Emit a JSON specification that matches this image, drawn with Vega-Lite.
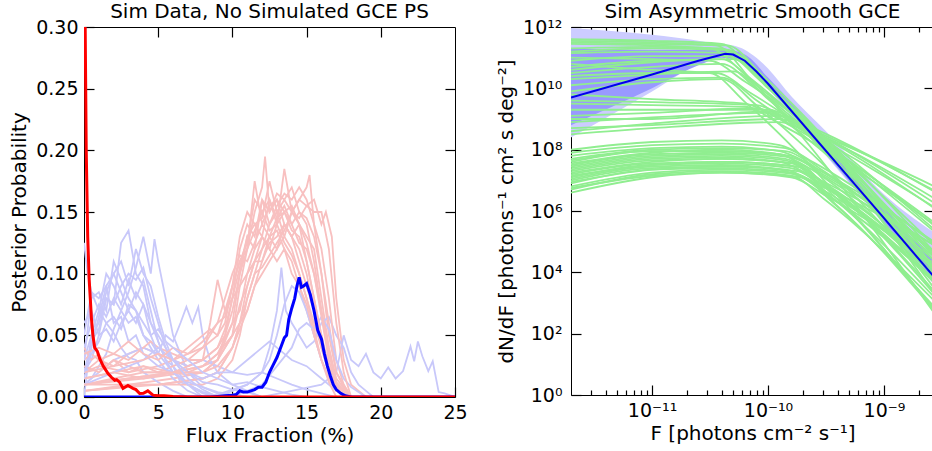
{
"$schema": "https://vega.github.io/schema/vega-lite/v6.json",
"background": "white",
"padding": {"left": 9, "top": 1, "right": 0, "bottom": 0},
"spacing": 28,
"config": {
  "font": "DejaVu Sans",
  "view": {"stroke": "black", "strokeWidth": 1},
  "axis": {"ticks": true, "tickOpacity": 1, "labelFontSize": 19, "titleFontSize": 20, "titleFontWeight": "normal", "labelColor": "black", "titleColor": "black", "tickColor": "#000000", "tickWidth": 1.2, "grid": false, "domain": false, "labelOverlap": false, "labelFlush": false, "labelBound": false, "zindex": 1},
  "title": {"fontSize": 20, "fontWeight": "normal", "color": "black", "offset": -4}
},
"datasets": {
"light": [
{"s":"b1","c":"b","x":0,"y":0.02},{"s":"b1","c":"b","x":0.5,"y":0.045},{"s":"b1","c":"b","x":1,"y":0.055},{"s":"b1","c":"b","x":1.5,"y":0.08},{"s":"b1","c":"b","x":2,"y":0.075},{"s":"b1","c":"b","x":2.5,"y":0.125},{"s":"b1","c":"b","x":3,"y":0.135},{"s":"b1","c":"b","x":3.5,"y":0.1},{"s":"b1","c":"b","x":4,"y":0.09},{"s":"b1","c":"b","x":4.5,"y":0.06},{"s":"b1","c":"b","x":5,"y":0.045},{"s":"b1","c":"b","x":5.5,"y":0.03},{"s":"b1","c":"b","x":6,"y":0.025},{"s":"b1","c":"b","x":6.5,"y":0.012},{"s":"b1","c":"b","x":7,"y":0.01},{"s":"b1","c":"b","x":8,"y":0.004},{"s":"b1","c":"b","x":9,"y":0.001},{"s":"b1","c":"b","x":10,"y":0},
{"s":"p1","c":"p","x":0,"y":0.01},{"s":"p1","c":"p","x":2,"y":0.015},{"s":"p1","c":"p","x":4,"y":0.02},{"s":"p1","c":"p","x":6,"y":0.02},{"s":"p1","c":"p","x":8,"y":0.02},{"s":"p1","c":"p","x":9,"y":0.03},{"s":"p1","c":"p","x":9.5,"y":0.05},{"s":"p1","c":"p","x":10,"y":0.08},{"s":"p1","c":"p","x":10.5,"y":0.12},{"s":"p1","c":"p","x":11,"y":0.14},{"s":"p1","c":"p","x":11.5,"y":0.13},{"s":"p1","c":"p","x":12,"y":0.16},{"s":"p1","c":"p","x":12.5,"y":0.14},{"s":"p1","c":"p","x":13,"y":0.15},{"s":"p1","c":"p","x":13.5,"y":0.13},{"s":"p1","c":"p","x":14,"y":0.12},{"s":"p1","c":"p","x":14.5,"y":0.1},{"s":"p1","c":"p","x":15,"y":0.08},{"s":"p1","c":"p","x":15.5,"y":0.06},{"s":"p1","c":"p","x":16,"y":0.04},{"s":"p1","c":"p","x":16.5,"y":0.02},{"s":"p1","c":"p","x":17,"y":0.008},{"s":"p1","c":"p","x":18,"y":0},
{"s":"b2","c":"b","x":0,"y":0.01},{"s":"b2","c":"b","x":0.5,"y":0.015},{"s":"b2","c":"b","x":1,"y":0.025},{"s":"b2","c":"b","x":1.5,"y":0.035},{"s":"b2","c":"b","x":2,"y":0.055},{"s":"b2","c":"b","x":2.5,"y":0.07},{"s":"b2","c":"b","x":3,"y":0.085},{"s":"b2","c":"b","x":3.5,"y":0.105},{"s":"b2","c":"b","x":4,"y":0.13},{"s":"b2","c":"b","x":4.5,"y":0.1},{"s":"b2","c":"b","x":4.75,"y":0.128},{"s":"b2","c":"b","x":5,"y":0.11},{"s":"b2","c":"b","x":5.5,"y":0.08},{"s":"b2","c":"b","x":6,"y":0.05},{"s":"b2","c":"b","x":6.5,"y":0.035},{"s":"b2","c":"b","x":7,"y":0.02},{"s":"b2","c":"b","x":8,"y":0.008},{"s":"b2","c":"b","x":9,"y":0.003},{"s":"b2","c":"b","x":10,"y":0},
{"s":"p2","c":"p","x":0,"y":0.005},{"s":"p2","c":"p","x":3,"y":0.01},{"s":"p2","c":"p","x":6,"y":0.015},{"s":"p2","c":"p","x":8,"y":0.02},{"s":"p2","c":"p","x":9,"y":0.03},{"s":"p2","c":"p","x":10,"y":0.06},{"s":"p2","c":"p","x":10.5,"y":0.1},{"s":"p2","c":"p","x":11,"y":0.12},{"s":"p2","c":"p","x":11.5,"y":0.15},{"s":"p2","c":"p","x":12,"y":0.17},{"s":"p2","c":"p","x":12.2,"y":0.195},{"s":"p2","c":"p","x":12.5,"y":0.15},{"s":"p2","c":"p","x":13,"y":0.16},{"s":"p2","c":"p","x":13.5,"y":0.14},{"s":"p2","c":"p","x":14,"y":0.13},{"s":"p2","c":"p","x":14.5,"y":0.12},{"s":"p2","c":"p","x":15,"y":0.1},{"s":"p2","c":"p","x":15.5,"y":0.07},{"s":"p2","c":"p","x":16,"y":0.04},{"s":"p2","c":"p","x":16.5,"y":0.02},{"s":"p2","c":"p","x":17,"y":0.01},{"s":"p2","c":"p","x":18,"y":0},
{"s":"b3","c":"b","x":0,"y":0.125},{"s":"b3","c":"b","x":0.25,"y":0.1},{"s":"b3","c":"b","x":0.5,"y":0.085},{"s":"b3","c":"b","x":1,"y":0.07},{"s":"b3","c":"b","x":1.5,"y":0.06},{"s":"b3","c":"b","x":2,"y":0.052},{"s":"b3","c":"b","x":2.5,"y":0.04},{"s":"b3","c":"b","x":3,"y":0.032},{"s":"b3","c":"b","x":3.5,"y":0.03},{"s":"b3","c":"b","x":4,"y":0.02},{"s":"b3","c":"b","x":5,"y":0.012},{"s":"b3","c":"b","x":6,"y":0.005},{"s":"b3","c":"b","x":7,"y":0},
{"s":"p3","c":"p","x":0,"y":0.02},{"s":"p3","c":"p","x":1,"y":0.03},{"s":"p3","c":"p","x":2,"y":0.025},{"s":"p3","c":"p","x":3,"y":0.035},{"s":"p3","c":"p","x":4,"y":0.04},{"s":"p3","c":"p","x":5,"y":0.035},{"s":"p3","c":"p","x":6,"y":0.03},{"s":"p3","c":"p","x":7,"y":0.025},{"s":"p3","c":"p","x":8,"y":0.03},{"s":"p3","c":"p","x":8.5,"y":0.06},{"s":"p3","c":"p","x":9,"y":0.095},{"s":"p3","c":"p","x":9.5,"y":0.07},{"s":"p3","c":"p","x":10,"y":0.08},{"s":"p3","c":"p","x":10.5,"y":0.09},{"s":"p3","c":"p","x":11,"y":0.1},{"s":"p3","c":"p","x":11.5,"y":0.11},{"s":"p3","c":"p","x":12,"y":0.12},{"s":"p3","c":"p","x":12.5,"y":0.13},{"s":"p3","c":"p","x":13,"y":0.12},{"s":"p3","c":"p","x":13.5,"y":0.14},{"s":"p3","c":"p","x":14,"y":0.13},{"s":"p3","c":"p","x":14.5,"y":0.11},{"s":"p3","c":"p","x":15,"y":0.09},{"s":"p3","c":"p","x":15.5,"y":0.07},{"s":"p3","c":"p","x":16,"y":0.045},{"s":"p3","c":"p","x":16.5,"y":0.02},{"s":"p3","c":"p","x":17,"y":0.008},{"s":"p3","c":"p","x":18,"y":0},
{"s":"b4","c":"b","x":0,"y":0.03},{"s":"b4","c":"b","x":0.5,"y":0.08},{"s":"b4","c":"b","x":1,"y":0.085},{"s":"b4","c":"b","x":1.5,"y":0.07},{"s":"b4","c":"b","x":2,"y":0.11},{"s":"b4","c":"b","x":2.5,"y":0.095},{"s":"b4","c":"b","x":3,"y":0.08},{"s":"b4","c":"b","x":3.5,"y":0.07},{"s":"b4","c":"b","x":4,"y":0.05},{"s":"b4","c":"b","x":4.5,"y":0.04},{"s":"b4","c":"b","x":5,"y":0.03},{"s":"b4","c":"b","x":6,"y":0.015},{"s":"b4","c":"b","x":7,"y":0.005},{"s":"b4","c":"b","x":8,"y":0},
{"s":"p4","c":"p","x":0,"y":0.01},{"s":"p4","c":"p","x":4,"y":0.015},{"s":"p4","c":"p","x":7,"y":0.02},{"s":"p4","c":"p","x":9,"y":0.03},{"s":"p4","c":"p","x":10,"y":0.05},{"s":"p4","c":"p","x":10.5,"y":0.09},{"s":"p4","c":"p","x":11,"y":0.12},{"s":"p4","c":"p","x":11.5,"y":0.175},{"s":"p4","c":"p","x":12,"y":0.14},{"s":"p4","c":"p","x":12.5,"y":0.155},{"s":"p4","c":"p","x":13,"y":0.16},{"s":"p4","c":"p","x":13.5,"y":0.15},{"s":"p4","c":"p","x":14,"y":0.155},{"s":"p4","c":"p","x":14.5,"y":0.14},{"s":"p4","c":"p","x":15,"y":0.13},{"s":"p4","c":"p","x":15.5,"y":0.12},{"s":"p4","c":"p","x":16,"y":0.08},{"s":"p4","c":"p","x":16.5,"y":0.04},{"s":"p4","c":"p","x":17,"y":0.01},{"s":"p4","c":"p","x":18,"y":0},
{"s":"b5","c":"b","x":0,"y":0.02},{"s":"b5","c":"b","x":0.5,"y":0.03},{"s":"b5","c":"b","x":1,"y":0.05},{"s":"b5","c":"b","x":1.5,"y":0.08},{"s":"b5","c":"b","x":2,"y":0.075},{"s":"b5","c":"b","x":2.5,"y":0.09},{"s":"b5","c":"b","x":3,"y":0.1},{"s":"b5","c":"b","x":3.5,"y":0.095},{"s":"b5","c":"b","x":4,"y":0.105},{"s":"b5","c":"b","x":4.5,"y":0.08},{"s":"b5","c":"b","x":5,"y":0.06},{"s":"b5","c":"b","x":5.5,"y":0.04},{"s":"b5","c":"b","x":6,"y":0.025},{"s":"b5","c":"b","x":7,"y":0.01},{"s":"b5","c":"b","x":8,"y":0.003},{"s":"b5","c":"b","x":9,"y":0},
{"s":"p5","c":"p","x":0,"y":0.005},{"s":"p5","c":"p","x":5,"y":0.01},{"s":"p5","c":"p","x":8,"y":0.015},{"s":"p5","c":"p","x":9,"y":0.02},{"s":"p5","c":"p","x":10,"y":0.04},{"s":"p5","c":"p","x":10.5,"y":0.06},{"s":"p5","c":"p","x":11,"y":0.09},{"s":"p5","c":"p","x":11.5,"y":0.11},{"s":"p5","c":"p","x":12,"y":0.13},{"s":"p5","c":"p","x":12.5,"y":0.12},{"s":"p5","c":"p","x":13,"y":0.14},{"s":"p5","c":"p","x":13.5,"y":0.185},{"s":"p5","c":"p","x":14,"y":0.15},{"s":"p5","c":"p","x":14.5,"y":0.16},{"s":"p5","c":"p","x":15,"y":0.17},{"s":"p5","c":"p","x":15.2,"y":0.18},{"s":"p5","c":"p","x":15.5,"y":0.14},{"s":"p5","c":"p","x":16,"y":0.1},{"s":"p5","c":"p","x":16.5,"y":0.05},{"s":"p5","c":"p","x":17,"y":0.02},{"s":"p5","c":"p","x":18,"y":0},
{"s":"b6","c":"b","x":0,"y":0.04},{"s":"b6","c":"b","x":0.5,"y":0.06},{"s":"b6","c":"b","x":1,"y":0.075},{"s":"b6","c":"b","x":1.5,"y":0.065},{"s":"b6","c":"b","x":2,"y":0.08},{"s":"b6","c":"b","x":2.5,"y":0.07},{"s":"b6","c":"b","x":3,"y":0.06},{"s":"b6","c":"b","x":3.5,"y":0.065},{"s":"b6","c":"b","x":4,"y":0.05},{"s":"b6","c":"b","x":4.5,"y":0.045},{"s":"b6","c":"b","x":5,"y":0.035},{"s":"b6","c":"b","x":5.5,"y":0.05},{"s":"b6","c":"b","x":6,"y":0.045},{"s":"b6","c":"b","x":6.5,"y":0.06},{"s":"b6","c":"b","x":6.9,"y":0.073},{"s":"b6","c":"b","x":7.3,"y":0.06},{"s":"b6","c":"b","x":7.7,"y":0.073},{"s":"b6","c":"b","x":8,"y":0.05},{"s":"b6","c":"b","x":8.5,"y":0.03},{"s":"b6","c":"b","x":9,"y":0.02},{"s":"b6","c":"b","x":10,"y":0.01},{"s":"b6","c":"b","x":11,"y":0.005},{"s":"b6","c":"b","x":12,"y":0},
{"s":"p6","c":"p","x":0,"y":0.015},{"s":"p6","c":"p","x":2,"y":0.02},{"s":"p6","c":"p","x":4,"y":0.025},{"s":"p6","c":"p","x":6,"y":0.02},{"s":"p6","c":"p","x":8,"y":0.025},{"s":"p6","c":"p","x":9,"y":0.035},{"s":"p6","c":"p","x":10,"y":0.05},{"s":"p6","c":"p","x":11,"y":0.07},{"s":"p6","c":"p","x":11.5,"y":0.09},{"s":"p6","c":"p","x":12,"y":0.1},{"s":"p6","c":"p","x":12.5,"y":0.11},{"s":"p6","c":"p","x":13,"y":0.12},{"s":"p6","c":"p","x":13.5,"y":0.13},{"s":"p6","c":"p","x":14,"y":0.15},{"s":"p6","c":"p","x":14.5,"y":0.16},{"s":"p6","c":"p","x":15,"y":0.155},{"s":"p6","c":"p","x":15.5,"y":0.16},{"s":"p6","c":"p","x":16,"y":0.14},{"s":"p6","c":"p","x":16.3,"y":0.15},{"s":"p6","c":"p","x":16.7,"y":0.13},{"s":"p6","c":"p","x":17,"y":0.08},{"s":"p6","c":"p","x":17.5,"y":0.03},{"s":"p6","c":"p","x":18,"y":0.01},{"s":"p6","c":"p","x":19,"y":0},
{"s":"b7","c":"b","x":0,"y":0.01},{"s":"b7","c":"b","x":1,"y":0.02},{"s":"b7","c":"b","x":2,"y":0.03},{"s":"b7","c":"b","x":3,"y":0.035},{"s":"b7","c":"b","x":4,"y":0.04},{"s":"b7","c":"b","x":5,"y":0.035},{"s":"b7","c":"b","x":6,"y":0.03},{"s":"b7","c":"b","x":7,"y":0.025},{"s":"b7","c":"b","x":8,"y":0.03},{"s":"b7","c":"b","x":9,"y":0.025},{"s":"b7","c":"b","x":10,"y":0.02},{"s":"b7","c":"b","x":11,"y":0.018},{"s":"b7","c":"b","x":12,"y":0.02},{"s":"b7","c":"b","x":13,"y":0.015},{"s":"b7","c":"b","x":14,"y":0.01},{"s":"b7","c":"b","x":15,"y":0.006},{"s":"b7","c":"b","x":16,"y":0.003},{"s":"b7","c":"b","x":17,"y":0},
{"s":"p7","c":"p","x":0,"y":0.03},{"s":"p7","c":"p","x":0.5,"y":0.035},{"s":"p7","c":"p","x":1,"y":0.03},{"s":"p7","c":"p","x":2,"y":0.035},{"s":"p7","c":"p","x":3,"y":0.03},{"s":"p7","c":"p","x":4,"y":0.04},{"s":"p7","c":"p","x":4.5,"y":0.045},{"s":"p7","c":"p","x":5,"y":0.04},{"s":"p7","c":"p","x":6,"y":0.035},{"s":"p7","c":"p","x":7,"y":0.03},{"s":"p7","c":"p","x":8,"y":0.03},{"s":"p7","c":"p","x":9,"y":0.04},{"s":"p7","c":"p","x":9.5,"y":0.05},{"s":"p7","c":"p","x":10,"y":0.07},{"s":"p7","c":"p","x":10.5,"y":0.1},{"s":"p7","c":"p","x":11,"y":0.13},{"s":"p7","c":"p","x":11.5,"y":0.12},{"s":"p7","c":"p","x":12,"y":0.13},{"s":"p7","c":"p","x":12.5,"y":0.12},{"s":"p7","c":"p","x":13,"y":0.11},{"s":"p7","c":"p","x":13.5,"y":0.12},{"s":"p7","c":"p","x":14,"y":0.1},{"s":"p7","c":"p","x":14.5,"y":0.09},{"s":"p7","c":"p","x":15,"y":0.07},{"s":"p7","c":"p","x":15.5,"y":0.05},{"s":"p7","c":"p","x":16,"y":0.03},{"s":"p7","c":"p","x":16.5,"y":0.015},{"s":"p7","c":"p","x":17,"y":0.005},{"s":"p7","c":"p","x":18,"y":0},
{"s":"b8","c":"b","x":8,"y":0},{"s":"b8","c":"b","x":9,"y":0.002},{"s":"b8","c":"b","x":10,"y":0.006},{"s":"b8","c":"b","x":11,"y":0.01},{"s":"b8","c":"b","x":12,"y":0.02},{"s":"b8","c":"b","x":12.5,"y":0.03},{"s":"b8","c":"b","x":13,"y":0.05},{"s":"b8","c":"b","x":13.5,"y":0.075},{"s":"b8","c":"b","x":14,"y":0.09},{"s":"b8","c":"b","x":14.5,"y":0.085},{"s":"b8","c":"b","x":15,"y":0.07},{"s":"b8","c":"b","x":15.5,"y":0.05},{"s":"b8","c":"b","x":16,"y":0.03},{"s":"b8","c":"b","x":16.5,"y":0.015},{"s":"b8","c":"b","x":17,"y":0.005},{"s":"b8","c":"b","x":18,"y":0},
{"s":"p8","c":"p","x":0,"y":0.01},{"s":"p8","c":"p","x":3,"y":0.015},{"s":"p8","c":"p","x":6,"y":0.02},{"s":"p8","c":"p","x":8,"y":0.025},{"s":"p8","c":"p","x":9,"y":0.035},{"s":"p8","c":"p","x":10,"y":0.06},{"s":"p8","c":"p","x":10.5,"y":0.07},{"s":"p8","c":"p","x":11,"y":0.1},{"s":"p8","c":"p","x":11.5,"y":0.12},{"s":"p8","c":"p","x":12,"y":0.16},{"s":"p8","c":"p","x":12.5,"y":0.15},{"s":"p8","c":"p","x":13,"y":0.165},{"s":"p8","c":"p","x":13.5,"y":0.16},{"s":"p8","c":"p","x":14,"y":0.17},{"s":"p8","c":"p","x":14.5,"y":0.15},{"s":"p8","c":"p","x":15,"y":0.14},{"s":"p8","c":"p","x":15.5,"y":0.11},{"s":"p8","c":"p","x":16,"y":0.07},{"s":"p8","c":"p","x":16.5,"y":0.035},{"s":"p8","c":"p","x":17,"y":0.012},{"s":"p8","c":"p","x":18,"y":0},
{"s":"b9","c":"b","x":9,"y":0},{"s":"b9","c":"b","x":10,"y":0.005},{"s":"b9","c":"b","x":11,"y":0.01},{"s":"b9","c":"b","x":12,"y":0.02},{"s":"b9","c":"b","x":12.5,"y":0.04},{"s":"b9","c":"b","x":13,"y":0.07},{"s":"b9","c":"b","x":13.3,"y":0.105},{"s":"b9","c":"b","x":13.6,"y":0.07},{"s":"b9","c":"b","x":14,"y":0.06},{"s":"b9","c":"b","x":14.5,"y":0.05},{"s":"b9","c":"b","x":15,"y":0.04},{"s":"b9","c":"b","x":15.5,"y":0.045},{"s":"b9","c":"b","x":16,"y":0.06},{"s":"b9","c":"b","x":16.5,"y":0.065},{"s":"b9","c":"b","x":17,"y":0.05},{"s":"b9","c":"b","x":17.5,"y":0.04},{"s":"b9","c":"b","x":18,"y":0.02},{"s":"b9","c":"b","x":18.5,"y":0.01},{"s":"b9","c":"b","x":19,"y":0.005},{"s":"b9","c":"b","x":19.5,"y":0},
{"s":"p9","c":"p","x":0,"y":0.02},{"s":"p9","c":"p","x":1,"y":0.025},{"s":"p9","c":"p","x":3,"y":0.02},{"s":"p9","c":"p","x":5,"y":0.025},{"s":"p9","c":"p","x":6,"y":0.03},{"s":"p9","c":"p","x":7,"y":0.04},{"s":"p9","c":"p","x":7.5,"y":0.045},{"s":"p9","c":"p","x":8,"y":0.05},{"s":"p9","c":"p","x":8.5,"y":0.055},{"s":"p9","c":"p","x":9,"y":0.05},{"s":"p9","c":"p","x":9.5,"y":0.07},{"s":"p9","c":"p","x":10,"y":0.09},{"s":"p9","c":"p","x":10.5,"y":0.11},{"s":"p9","c":"p","x":11,"y":0.12},{"s":"p9","c":"p","x":11.5,"y":0.135},{"s":"p9","c":"p","x":12,"y":0.15},{"s":"p9","c":"p","x":12.5,"y":0.16},{"s":"p9","c":"p","x":13,"y":0.14},{"s":"p9","c":"p","x":13.5,"y":0.15},{"s":"p9","c":"p","x":14,"y":0.135},{"s":"p9","c":"p","x":14.5,"y":0.13},{"s":"p9","c":"p","x":15,"y":0.11},{"s":"p9","c":"p","x":15.5,"y":0.08},{"s":"p9","c":"p","x":16,"y":0.05},{"s":"p9","c":"p","x":16.5,"y":0.025},{"s":"p9","c":"p","x":17,"y":0.01},{"s":"p9","c":"p","x":18,"y":0},
{"s":"b10","c":"b","x":12,"y":0},{"s":"b10","c":"b","x":14,"y":0.005},{"s":"b10","c":"b","x":16,"y":0.01},{"s":"b10","c":"b","x":17,"y":0.02},{"s":"b10","c":"b","x":17.5,"y":0.05},{"s":"b10","c":"b","x":18,"y":0.03},{"s":"b10","c":"b","x":18.5,"y":0.025},{"s":"b10","c":"b","x":19,"y":0.035},{"s":"b10","c":"b","x":19.5,"y":0.02},{"s":"b10","c":"b","x":20,"y":0.015},{"s":"b10","c":"b","x":20.5,"y":0.024},{"s":"b10","c":"b","x":21,"y":0.015},{"s":"b10","c":"b","x":21.5,"y":0.021},{"s":"b10","c":"b","x":22,"y":0.041},{"s":"b10","c":"b","x":22.25,"y":0.029},{"s":"b10","c":"b","x":22.5,"y":0.045},{"s":"b10","c":"b","x":22.8,"y":0.033},{"s":"b10","c":"b","x":23.2,"y":0.021},{"s":"b10","c":"b","x":23.5,"y":0.029},{"s":"b10","c":"b","x":23.9,"y":0.004},{"s":"b10","c":"b","x":24.3,"y":0.003},{"s":"b10","c":"b","x":25,"y":0},
{"s":"p10","c":"p","x":0,"y":0.005},{"s":"p10","c":"p","x":4,"y":0.01},{"s":"p10","c":"p","x":8,"y":0.01},{"s":"p10","c":"p","x":9,"y":0.015},{"s":"p10","c":"p","x":10,"y":0.03},{"s":"p10","c":"p","x":10.5,"y":0.05},{"s":"p10","c":"p","x":11,"y":0.08},{"s":"p10","c":"p","x":11.5,"y":0.1},{"s":"p10","c":"p","x":12,"y":0.12},{"s":"p10","c":"p","x":12.5,"y":0.14},{"s":"p10","c":"p","x":13,"y":0.155},{"s":"p10","c":"p","x":13.5,"y":0.165},{"s":"p10","c":"p","x":14,"y":0.16},{"s":"p10","c":"p","x":14.5,"y":0.17},{"s":"p10","c":"p","x":15,"y":0.16},{"s":"p10","c":"p","x":15.5,"y":0.14},{"s":"p10","c":"p","x":16,"y":0.12},{"s":"p10","c":"p","x":16.5,"y":0.08},{"s":"p10","c":"p","x":17,"y":0.03},{"s":"p10","c":"p","x":17.5,"y":0.01},{"s":"p10","c":"p","x":18,"y":0},
{"s":"b11","c":"b","x":0,"y":0},{"s":"b11","c":"b","x":0.5,"y":0.05},{"s":"b11","c":"b","x":1,"y":0.07},{"s":"b11","c":"b","x":1.5,"y":0.1},{"s":"b11","c":"b","x":2,"y":0.09},{"s":"b11","c":"b","x":2.5,"y":0.075},{"s":"b11","c":"b","x":3,"y":0.095},{"s":"b11","c":"b","x":3.5,"y":0.08},{"s":"b11","c":"b","x":4,"y":0.095},{"s":"b11","c":"b","x":4.5,"y":0.07},{"s":"b11","c":"b","x":5,"y":0.045},{"s":"b11","c":"b","x":5.5,"y":0.03},{"s":"b11","c":"b","x":6,"y":0.02},{"s":"b11","c":"b","x":7,"y":0.01},{"s":"b11","c":"b","x":8,"y":0.004},{"s":"b11","c":"b","x":9,"y":0},
{"s":"p11","c":"p","x":0,"y":0.04},{"s":"p11","c":"p","x":0.5,"y":0.03},{"s":"p11","c":"p","x":1,"y":0.035},{"s":"p11","c":"p","x":1.5,"y":0.025},{"s":"p11","c":"p","x":2,"y":0.03},{"s":"p11","c":"p","x":3,"y":0.025},{"s":"p11","c":"p","x":4,"y":0.02},{"s":"p11","c":"p","x":5,"y":0.02},{"s":"p11","c":"p","x":6,"y":0.025},{"s":"p11","c":"p","x":7,"y":0.03},{"s":"p11","c":"p","x":8,"y":0.04},{"s":"p11","c":"p","x":9,"y":0.06},{"s":"p11","c":"p","x":9.5,"y":0.08},{"s":"p11","c":"p","x":10,"y":0.1},{"s":"p11","c":"p","x":10.5,"y":0.115},{"s":"p11","c":"p","x":11,"y":0.11},{"s":"p11","c":"p","x":11.5,"y":0.125},{"s":"p11","c":"p","x":12,"y":0.14},{"s":"p11","c":"p","x":12.5,"y":0.13},{"s":"p11","c":"p","x":13,"y":0.135},{"s":"p11","c":"p","x":13.5,"y":0.12},{"s":"p11","c":"p","x":14,"y":0.11},{"s":"p11","c":"p","x":14.5,"y":0.09},{"s":"p11","c":"p","x":15,"y":0.075},{"s":"p11","c":"p","x":15.5,"y":0.05},{"s":"p11","c":"p","x":16,"y":0.03},{"s":"p11","c":"p","x":16.5,"y":0.015},{"s":"p11","c":"p","x":17,"y":0.005},{"s":"p11","c":"p","x":18,"y":0},
{"s":"b12","c":"b","x":0,"y":0.05},{"s":"b12","c":"b","x":0.5,"y":0.085},{"s":"b12","c":"b","x":1,"y":0.08},{"s":"b12","c":"b","x":1.5,"y":0.09},{"s":"b12","c":"b","x":2,"y":0.06},{"s":"b12","c":"b","x":2.5,"y":0.065},{"s":"b12","c":"b","x":3,"y":0.045},{"s":"b12","c":"b","x":3.5,"y":0.05},{"s":"b12","c":"b","x":4,"y":0.035},{"s":"b12","c":"b","x":5,"y":0.025},{"s":"b12","c":"b","x":6,"y":0.02},{"s":"b12","c":"b","x":7,"y":0.012},{"s":"b12","c":"b","x":8,"y":0.008},{"s":"b12","c":"b","x":9,"y":0.004},{"s":"b12","c":"b","x":10,"y":0.002},{"s":"b12","c":"b","x":11,"y":0},
{"s":"p12","c":"p","x":0,"y":0.01},{"s":"p12","c":"p","x":5,"y":0.01},{"s":"p12","c":"p","x":8,"y":0.015},{"s":"p12","c":"p","x":9,"y":0.02},{"s":"p12","c":"p","x":10,"y":0.04},{"s":"p12","c":"p","x":11,"y":0.07},{"s":"p12","c":"p","x":11.5,"y":0.09},{"s":"p12","c":"p","x":12,"y":0.11},{"s":"p12","c":"p","x":12.5,"y":0.13},{"s":"p12","c":"p","x":13,"y":0.145},{"s":"p12","c":"p","x":13.5,"y":0.15},{"s":"p12","c":"p","x":14,"y":0.14},{"s":"p12","c":"p","x":14.5,"y":0.15},{"s":"p12","c":"p","x":15,"y":0.145},{"s":"p12","c":"p","x":15.5,"y":0.13},{"s":"p12","c":"p","x":16,"y":0.1},{"s":"p12","c":"p","x":16.5,"y":0.06},{"s":"p12","c":"p","x":17,"y":0.02},{"s":"p12","c":"p","x":17.5,"y":0.008},{"s":"p12","c":"p","x":18,"y":0},
{"s":"b13","c":"b","x":10,"y":0},{"s":"b13","c":"b","x":11,"y":0.005},{"s":"b13","c":"b","x":12,"y":0.01},{"s":"b13","c":"b","x":13,"y":0.025},{"s":"b13","c":"b","x":14,"y":0.04},{"s":"b13","c":"b","x":14.5,"y":0.055},{"s":"b13","c":"b","x":15,"y":0.06},{"s":"b13","c":"b","x":15.5,"y":0.055},{"s":"b13","c":"b","x":16,"y":0.065},{"s":"b13","c":"b","x":16.5,"y":0.055},{"s":"b13","c":"b","x":17,"y":0.03},{"s":"b13","c":"b","x":17.5,"y":0.015},{"s":"b13","c":"b","x":18,"y":0.008},{"s":"b13","c":"b","x":18.5,"y":0.004},{"s":"b13","c":"b","x":19,"y":0},
{"s":"p13","c":"p","x":0,"y":0.025},{"s":"p13","c":"p","x":1,"y":0.02},{"s":"p13","c":"p","x":2,"y":0.03},{"s":"p13","c":"p","x":3,"y":0.02},{"s":"p13","c":"p","x":4,"y":0.025},{"s":"p13","c":"p","x":5,"y":0.02},{"s":"p13","c":"p","x":6,"y":0.02},{"s":"p13","c":"p","x":7,"y":0.018},{"s":"p13","c":"p","x":8,"y":0.02},{"s":"p13","c":"p","x":9,"y":0.03},{"s":"p13","c":"p","x":10,"y":0.05},{"s":"p13","c":"p","x":10.5,"y":0.075},{"s":"p13","c":"p","x":11,"y":0.09},{"s":"p13","c":"p","x":11.5,"y":0.11},{"s":"p13","c":"p","x":12,"y":0.11},{"s":"p13","c":"p","x":12.5,"y":0.125},{"s":"p13","c":"p","x":13,"y":0.13},{"s":"p13","c":"p","x":13.5,"y":0.14},{"s":"p13","c":"p","x":14,"y":0.13},{"s":"p13","c":"p","x":14.5,"y":0.14},{"s":"p13","c":"p","x":15,"y":0.125},{"s":"p13","c":"p","x":15.5,"y":0.1},{"s":"p13","c":"p","x":16,"y":0.07},{"s":"p13","c":"p","x":16.5,"y":0.04},{"s":"p13","c":"p","x":17,"y":0.015},{"s":"p13","c":"p","x":18,"y":0},
{"s":"b14","c":"b","x":0,"y":0.01},{"s":"b14","c":"b","x":2,"y":0.02},{"s":"b14","c":"b","x":4,"y":0.03},{"s":"b14","c":"b","x":5,"y":0.04},{"s":"b14","c":"b","x":6,"y":0.03},{"s":"b14","c":"b","x":7,"y":0.02},{"s":"b14","c":"b","x":8,"y":0.015},{"s":"b14","c":"b","x":9,"y":0.02},{"s":"b14","c":"b","x":10,"y":0.02},{"s":"b14","c":"b","x":11,"y":0.03},{"s":"b14","c":"b","x":12,"y":0.04},{"s":"b14","c":"b","x":12.5,"y":0.045},{"s":"b14","c":"b","x":13,"y":0.04},{"s":"b14","c":"b","x":14,"y":0.03},{"s":"b14","c":"b","x":15,"y":0.025},{"s":"b14","c":"b","x":16,"y":0.015},{"s":"b14","c":"b","x":17,"y":0.005},{"s":"b14","c":"b","x":18,"y":0},
{"s":"p14","c":"p","x":0,"y":0.015},{"s":"p14","c":"p","x":2,"y":0.02},{"s":"p14","c":"p","x":4,"y":0.015},{"s":"p14","c":"p","x":6,"y":0.02},{"s":"p14","c":"p","x":8,"y":0.03},{"s":"p14","c":"p","x":9,"y":0.04},{"s":"p14","c":"p","x":9.5,"y":0.055},{"s":"p14","c":"p","x":10,"y":0.08},{"s":"p14","c":"p","x":10.5,"y":0.105},{"s":"p14","c":"p","x":11,"y":0.13},{"s":"p14","c":"p","x":11.5,"y":0.14},{"s":"p14","c":"p","x":12,"y":0.13},{"s":"p14","c":"p","x":12.5,"y":0.16},{"s":"p14","c":"p","x":13,"y":0.145},{"s":"p14","c":"p","x":13.5,"y":0.155},{"s":"p14","c":"p","x":14,"y":0.14},{"s":"p14","c":"p","x":14.5,"y":0.125},{"s":"p14","c":"p","x":15,"y":0.12},{"s":"p14","c":"p","x":15.5,"y":0.1},{"s":"p14","c":"p","x":16,"y":0.065},{"s":"p14","c":"p","x":16.5,"y":0.03},{"s":"p14","c":"p","x":17,"y":0.01},{"s":"p14","c":"p","x":18,"y":0},
{"s":"b15","c":"b","x":0,"y":0.015},{"s":"b15","c":"b","x":0.5,"y":0.04},{"s":"b15","c":"b","x":1,"y":0.065},{"s":"b15","c":"b","x":1.5,"y":0.09},{"s":"b15","c":"b","x":2,"y":0.1},{"s":"b15","c":"b","x":2.5,"y":0.085},{"s":"b15","c":"b","x":3,"y":0.07},{"s":"b15","c":"b","x":3.5,"y":0.085},{"s":"b15","c":"b","x":4,"y":0.075},{"s":"b15","c":"b","x":4.5,"y":0.05},{"s":"b15","c":"b","x":5,"y":0.035},{"s":"b15","c":"b","x":6,"y":0.02},{"s":"b15","c":"b","x":7,"y":0.01},{"s":"b15","c":"b","x":8,"y":0},
{"s":"p15","c":"p","x":0,"y":0.02},{"s":"p15","c":"p","x":2,"y":0.025},{"s":"p15","c":"p","x":4,"y":0.03},{"s":"p15","c":"p","x":5,"y":0.035},{"s":"p15","c":"p","x":6,"y":0.03},{"s":"p15","c":"p","x":7,"y":0.035},{"s":"p15","c":"p","x":8,"y":0.04},{"s":"p15","c":"p","x":9,"y":0.05},{"s":"p15","c":"p","x":9.5,"y":0.06},{"s":"p15","c":"p","x":10,"y":0.09},{"s":"p15","c":"p","x":10.5,"y":0.13},{"s":"p15","c":"p","x":11,"y":0.15},{"s":"p15","c":"p","x":11.5,"y":0.14},{"s":"p15","c":"p","x":12,"y":0.145},{"s":"p15","c":"p","x":12.5,"y":0.175},{"s":"p15","c":"p","x":13,"y":0.15},{"s":"p15","c":"p","x":13.5,"y":0.16},{"s":"p15","c":"p","x":14,"y":0.15},{"s":"p15","c":"p","x":14.5,"y":0.14},{"s":"p15","c":"p","x":15,"y":0.11},{"s":"p15","c":"p","x":15.5,"y":0.08},{"s":"p15","c":"p","x":16,"y":0.05},{"s":"p15","c":"p","x":16.5,"y":0.02},{"s":"p15","c":"p","x":17,"y":0.005},{"s":"p15","c":"p","x":18,"y":0},
{"s":"b16","c":"b","x":0,"y":0.06},{"s":"b16","c":"b","x":0.5,"y":0.07},{"s":"b16","c":"b","x":1,"y":0.05},{"s":"b16","c":"b","x":1.5,"y":0.055},{"s":"b16","c":"b","x":2,"y":0.045},{"s":"b16","c":"b","x":2.5,"y":0.06},{"s":"b16","c":"b","x":3,"y":0.07},{"s":"b16","c":"b","x":3.5,"y":0.06},{"s":"b16","c":"b","x":4,"y":0.075},{"s":"b16","c":"b","x":4.5,"y":0.06},{"s":"b16","c":"b","x":5,"y":0.05},{"s":"b16","c":"b","x":5.5,"y":0.04},{"s":"b16","c":"b","x":6,"y":0.03},{"s":"b16","c":"b","x":7,"y":0.02},{"s":"b16","c":"b","x":8,"y":0.012},{"s":"b16","c":"b","x":9,"y":0.01},{"s":"b16","c":"b","x":10,"y":0.006},{"s":"b16","c":"b","x":11,"y":0.004},{"s":"b16","c":"b","x":12,"y":0},
{"s":"p16","c":"p","x":0,"y":0.01},{"s":"p16","c":"p","x":3,"y":0.015},{"s":"p16","c":"p","x":6,"y":0.02},{"s":"p16","c":"p","x":8,"y":0.02},{"s":"p16","c":"p","x":9,"y":0.025},{"s":"p16","c":"p","x":10,"y":0.04},{"s":"p16","c":"p","x":10.5,"y":0.06},{"s":"p16","c":"p","x":11,"y":0.08},{"s":"p16","c":"p","x":11.5,"y":0.1},{"s":"p16","c":"p","x":12,"y":0.105},{"s":"p16","c":"p","x":12.5,"y":0.115},{"s":"p16","c":"p","x":13,"y":0.125},{"s":"p16","c":"p","x":13.5,"y":0.135},{"s":"p16","c":"p","x":14,"y":0.15},{"s":"p16","c":"p","x":14.5,"y":0.145},{"s":"p16","c":"p","x":15,"y":0.155},{"s":"p16","c":"p","x":15.5,"y":0.15},{"s":"p16","c":"p","x":16,"y":0.15},{"s":"p16","c":"p","x":16.5,"y":0.12},{"s":"p16","c":"p","x":17,"y":0.06},{"s":"p16","c":"p","x":17.5,"y":0.02},{"s":"p16","c":"p","x":18,"y":0},
{"s":"b17","c":"b","x":0,"y":0.03},{"s":"b17","c":"b","x":0.5,"y":0.05},{"s":"b17","c":"b","x":1,"y":0.06},{"s":"b17","c":"b","x":1.5,"y":0.085},{"s":"b17","c":"b","x":2,"y":0.1},{"s":"b17","c":"b","x":2.5,"y":0.11},{"s":"b17","c":"b","x":3,"y":0.09},{"s":"b17","c":"b","x":3.5,"y":0.12},{"s":"b17","c":"b","x":4,"y":0.1},{"s":"b17","c":"b","x":4.5,"y":0.09},{"s":"b17","c":"b","x":5,"y":0.065},{"s":"b17","c":"b","x":5.5,"y":0.045},{"s":"b17","c":"b","x":6,"y":0.03},{"s":"b17","c":"b","x":7,"y":0.015},{"s":"b17","c":"b","x":8,"y":0.006},{"s":"b17","c":"b","x":9,"y":0},
{"s":"p17","c":"p","x":0,"y":0.035},{"s":"p17","c":"p","x":1,"y":0.04},{"s":"p17","c":"p","x":2,"y":0.035},{"s":"p17","c":"p","x":3,"y":0.045},{"s":"p17","c":"p","x":4,"y":0.035},{"s":"p17","c":"p","x":5,"y":0.03},{"s":"p17","c":"p","x":6,"y":0.04},{"s":"p17","c":"p","x":7,"y":0.035},{"s":"p17","c":"p","x":8,"y":0.045},{"s":"p17","c":"p","x":9,"y":0.06},{"s":"p17","c":"p","x":9.5,"y":0.065},{"s":"p17","c":"p","x":10,"y":0.09},{"s":"p17","c":"p","x":10.5,"y":0.11},{"s":"p17","c":"p","x":11,"y":0.125},{"s":"p17","c":"p","x":11.5,"y":0.16},{"s":"p17","c":"p","x":12,"y":0.15},{"s":"p17","c":"p","x":12.5,"y":0.135},{"s":"p17","c":"p","x":13,"y":0.14},{"s":"p17","c":"p","x":13.5,"y":0.125},{"s":"p17","c":"p","x":14,"y":0.115},{"s":"p17","c":"p","x":14.5,"y":0.1},{"s":"p17","c":"p","x":15,"y":0.08},{"s":"p17","c":"p","x":15.5,"y":0.055},{"s":"p17","c":"p","x":16,"y":0.03},{"s":"p17","c":"p","x":16.5,"y":0.012},{"s":"p17","c":"p","x":17,"y":0},
{"s":"b18","c":"b","x":0,"y":0.02},{"s":"b18","c":"b","x":0.5,"y":0.035},{"s":"b18","c":"b","x":1,"y":0.045},{"s":"b18","c":"b","x":1.5,"y":0.06},{"s":"b18","c":"b","x":2,"y":0.065},{"s":"b18","c":"b","x":2.5,"y":0.055},{"s":"b18","c":"b","x":3,"y":0.075},{"s":"b18","c":"b","x":3.5,"y":0.07},{"s":"b18","c":"b","x":4,"y":0.06},{"s":"b18","c":"b","x":4.5,"y":0.05},{"s":"b18","c":"b","x":5,"y":0.055},{"s":"b18","c":"b","x":5.5,"y":0.045},{"s":"b18","c":"b","x":6,"y":0.04},{"s":"b18","c":"b","x":7,"y":0.03},{"s":"b18","c":"b","x":8,"y":0.02},{"s":"b18","c":"b","x":9,"y":0.015},{"s":"b18","c":"b","x":10,"y":0.01},{"s":"b18","c":"b","x":11,"y":0.012},{"s":"b18","c":"b","x":12,"y":0.008},{"s":"b18","c":"b","x":13,"y":0.005},{"s":"b18","c":"b","x":14,"y":0.002},{"s":"b18","c":"b","x":15,"y":0}
],
"blue": [
{"x":0,"y":0},{"x":8.5,"y":0},{"x":9,"y":0.0005},{"x":9.5,"y":0.001},{"x":10,"y":0.0015},{"x":10.25,"y":0.002},{"x":10.5,"y":0.005},{"x":10.75,"y":0.004},{"x":11,"y":0.004},{"x":11.25,"y":0.005},{"x":11.5,"y":0.006},{"x":11.75,"y":0.008},{"x":12,"y":0.008},{"x":12.25,"y":0.012},{"x":12.5,"y":0.02},{"x":12.75,"y":0.026},{"x":13,"y":0.032},{"x":13.25,"y":0.04},{"x":13.5,"y":0.048},{"x":13.65,"y":0.05},{"x":13.8,"y":0.063},{"x":14,"y":0.072},{"x":14.2,"y":0.08},{"x":14.35,"y":0.09},{"x":14.5,"y":0.097},{"x":14.65,"y":0.089},{"x":14.8,"y":0.09},{"x":15,"y":0.092},{"x":15.25,"y":0.083},{"x":15.5,"y":0.07},{"x":15.75,"y":0.054},{"x":16,"y":0.047},{"x":16.2,"y":0.035},{"x":16.4,"y":0.025},{"x":16.6,"y":0.017},{"x":16.8,"y":0.01},{"x":17,"y":0.006},{"x":17.3,"y":0.003},{"x":17.6,"y":0.001},{"x":18,"y":0},{"x":25,"y":0}
],
"red": [
{"x":0,"y":1},{"x":0.08,"y":0.3},{"x":0.15,"y":0.2},{"x":0.25,"y":0.13},{"x":0.35,"y":0.095},{"x":0.5,"y":0.064},{"x":0.6,"y":0.05},{"x":0.72,"y":0.04},{"x":0.9,"y":0.037},{"x":1.06,"y":0.031},{"x":1.3,"y":0.025},{"x":1.62,"y":0.019},{"x":1.85,"y":0.016},{"x":2.07,"y":0.0136},{"x":2.2,"y":0.014},{"x":2.4,"y":0.012},{"x":2.63,"y":0.007},{"x":2.96,"y":0.0093},{"x":3.3,"y":0.007},{"x":3.5,"y":0.006},{"x":3.75,"y":0.0028},{"x":4,"y":0.003},{"x":4.3,"y":0.005},{"x":4.65,"y":0.0015},{"x":5,"y":0.001},{"x":5.4,"y":0.001},{"x":6,"y":0.0005},{"x":7,"y":0},{"x":25,"y":0}
],
"green": [
{"s":"U1","F":2e-12,"N":3.98e11},{"s":"U1","F":1e-11,"N":3.55e11},{"s":"U1","F":3.98e-11,"N":2.82e11},{"s":"U1","F":7.94e-11,"N":2.63e10},{"s":"U1","F":2.7e-9,"N":3090},
{"s":"U2","F":2e-12,"N":3.16e11},{"s":"U2","F":1e-11,"N":2.82e11},{"s":"U2","F":4.47e-11,"N":2.51e11},{"s":"U2","F":8.91e-11,"N":2.69e10},{"s":"U2","F":2.7e-9,"N":15100},
{"s":"U3","F":2e-12,"N":2.0e11},{"s":"U3","F":1e-11,"N":2.24e11},{"s":"U3","F":3.98e-11,"N":2.0e11},{"s":"U3","F":7.94e-11,"N":2.51e10},{"s":"U3","F":2.7e-9,"N":24000},
{"s":"U4","F":2e-12,"N":1.41e11},{"s":"U4","F":1e-11,"N":1.58e11},{"s":"U4","F":5.01e-11,"N":1.41e11},{"s":"U4","F":1e-10,"N":1.38e10},{"s":"U4","F":2.7e-9,"N":6460},
{"s":"U5","F":2e-12,"N":7.94e10},{"s":"U5","F":1e-11,"N":1.12e11},{"s":"U5","F":4.47e-11,"N":1.12e11},{"s":"U5","F":8.91e-11,"N":1.58e10},{"s":"U5","F":2.7e-9,"N":46800},
{"s":"U6","F":2e-12,"N":5.01e10},{"s":"U6","F":1e-11,"N":7.94e10},{"s":"U6","F":5.01e-11,"N":8.91e10},{"s":"U6","F":1e-10,"N":1e10},{"s":"U6","F":2.7e-9,"N":12600},
{"s":"U7","F":2e-12,"N":3.16e10},{"s":"U7","F":1e-11,"N":5.01e10},{"s":"U7","F":3.98e-11,"N":6.31e10},{"s":"U7","F":7.94e-11,"N":9.77e9},{"s":"U7","F":2.7e-9,"N":37200},
{"s":"U8","F":2e-12,"N":2.0e10},{"s":"U8","F":1e-11,"N":2.82e10},{"s":"U8","F":5.01e-11,"N":3.55e10},{"s":"U8","F":1e-10,"N":4.47e9},{"s":"U8","F":2.7e-9,"N":10700},
{"s":"U9","F":2e-12,"N":1.26e10},{"s":"U9","F":1e-11,"N":2.0e10},{"s":"U9","F":3.98e-11,"N":2.24e10},{"s":"U9","F":7.94e-11,"N":4.07e9},{"s":"U9","F":2.7e-9,"N":43700},
{"s":"U10","F":2e-12,"N":2.82e11},{"s":"U10","F":1e-11,"N":2.51e11},{"s":"U10","F":3.16e-11,"N":2.0e11},{"s":"U10","F":6.31e-11,"N":2.95e10},{"s":"U10","F":2.7e-9,"N":33900},
{"s":"U11","F":2e-12,"N":1e11},{"s":"U11","F":1e-11,"N":8.91e10},{"s":"U11","F":3.16e-11,"N":7.94e10},{"s":"U11","F":6.31e-11,"N":1.66e10},{"s":"U11","F":2.7e-9,"N":257000},
{"s":"U12","F":2e-12,"N":2.51e10},{"s":"U12","F":1e-11,"N":3.16e10},{"s":"U12","F":3.55e-11,"N":3.16e10},{"s":"U12","F":7.08e-11,"N":7.08e9},{"s":"U12","F":2.7e-9,"N":219000},
{"s":"U13","F":2e-12,"N":3.55e11},{"s":"U13","F":1e-11,"N":3.16e11},{"s":"U13","F":3.55e-11,"N":2.51e11},{"s":"U13","F":7.08e-11,"N":2.0e10},{"s":"U13","F":2.7e-9,"N":479},
{"s":"U14","F":2e-12,"N":7.94e9},{"s":"U14","F":1e-11,"N":1.58e10},{"s":"U14","F":3.98e-11,"N":2.0e10},{"s":"U14","F":7.94e-11,"N":2.82e9},{"s":"U14","F":2.7e-9,"N":5370},
{"s":"U15","F":2e-12,"N":6.31e10},{"s":"U15","F":1e-11,"N":3.98e10},{"s":"U15","F":3.16e-11,"N":3.16e10},{"s":"U15","F":6.31e-11,"N":3.63e9},{"s":"U15","F":2.7e-9,"N":646},
{"s":"U16","F":2e-12,"N":1.58e11},{"s":"U16","F":1e-11,"N":2.0e11},{"s":"U16","F":4.47e-11,"N":1.78e11},{"s":"U16","F":8.91e-11,"N":2.0e10},{"s":"U16","F":2.7e-9,"N":2000},
{"s":"U17","F":2e-12,"N":3.98e10},{"s":"U17","F":1e-11,"N":7.08e10},{"s":"U17","F":3.98e-11,"N":8.91e10},{"s":"U17","F":7.94e-11,"N":1.26e10},{"s":"U17","F":2.7e-9,"N":79400},
{"s":"M1","F":2e-12,"N":6.31e9},{"s":"M1","F":1e-11,"N":4.47e9},{"s":"M1","F":6.31e-11,"N":3.16e9},{"s":"M1","F":1.26e-10,"N":1e9},{"s":"M1","F":2.7e-9,"N":1.35e6},
{"s":"M2","F":2e-12,"N":2.0e9},{"s":"M2","F":1e-11,"N":2.0e9},{"s":"M2","F":1e-10,"N":2.0e9},{"s":"M2","F":2.0e-10,"N":7.08e8},{"s":"M2","F":2.7e-9,"N":4.37e6},
{"s":"M3","F":2e-12,"N":7.94e8},{"s":"M3","F":1e-11,"N":1.12e9},{"s":"M3","F":1e-10,"N":1.58e9},{"s":"M3","F":2.0e-10,"N":5.89e8},{"s":"M3","F":2.7e-9,"N":4.68e6},
{"s":"M4","F":2e-12,"N":3.98e8},{"s":"M4","F":1e-11,"N":7.08e8},{"s":"M4","F":1.26e-10,"N":1.26e9},{"s":"M4","F":2.51e-10,"N":3.8e8},{"s":"M4","F":2.7e-9,"N":1.86e6},
{"s":"M5","F":2e-12,"N":1.26e9},{"s":"M5","F":1e-11,"N":1.58e9},{"s":"M5","F":7.94e-11,"N":2.24e9},{"s":"M5","F":1.58e-10,"N":5.89e8},{"s":"M5","F":2.7e-9,"N":4.27e5},
{"s":"M6","F":2e-12,"N":5.01e8},{"s":"M6","F":1e-11,"N":6.31e8},{"s":"M6","F":1.26e-10,"N":1e9},{"s":"M6","F":2.51e-10,"N":3.39e8},{"s":"M6","F":2.7e-9,"N":2.63e6},
{"s":"M7","F":2e-12,"N":3.16e9},{"s":"M7","F":1e-11,"N":2.82e9},{"s":"M7","F":6.31e-11,"N":2.51e9},{"s":"M7","F":1.26e-10,"N":6.92e8},{"s":"M7","F":2.7e-9,"N":3.72e5},
{"s":"M8","F":2e-12,"N":3.16e8},{"s":"M8","F":1e-11,"N":5.01e8},{"s":"M8","F":1.26e-10,"N":7.94e8},{"s":"M8","F":2.51e-10,"N":3.31e8},{"s":"M8","F":2.7e-9,"N":6.46e6},
{"s":"M9","F":2e-12,"N":1e9},{"s":"M9","F":1e-11,"N":1e9},{"s":"M9","F":1e-10,"N":1.78e9},{"s":"M9","F":2.0e-10,"N":4.17e8},{"s":"M9","F":2.7e-9,"N":3.39e5},
{"s":"M10","F":2e-12,"N":3.98e9},{"s":"M10","F":1e-11,"N":3.55e9},{"s":"M10","F":7.94e-11,"N":2.82e9},{"s":"M10","F":1.58e-10,"N":8.91e8},{"s":"M10","F":2.7e-9,"N":1.26e6},
{"s":"L1","F":2e-12,"N":1e8},{"s":"L1","F":1e-11,"N":1.78e8},{"s":"L1","F":3.98e-11,"N":2.0e8},{"s":"L1","F":1.26e-10,"N":1.41e8},{"s":"L1","F":2.51e-10,"N":3.72e7},{"s":"L1","F":2.7e-9,"N":89100},
{"s":"L2","F":2e-12,"N":7.94e7},{"s":"L2","F":1e-11,"N":1.41e8},{"s":"L2","F":3.98e-11,"N":1.58e8},{"s":"L2","F":1.41e-10,"N":1.12e8},{"s":"L2","F":2.82e-10,"N":2.4e7},{"s":"L2","F":2.7e-9,"N":32400},
{"s":"L3","F":2e-12,"N":5.01e7},{"s":"L3","F":1e-11,"N":1e8},{"s":"L3","F":3.98e-11,"N":1.12e8},{"s":"L3","F":1.41e-10,"N":8.91e7},{"s":"L3","F":2.82e-10,"N":2.09e7},{"s":"L3","F":2.7e-9,"N":44700},
{"s":"L4","F":2e-12,"N":3.98e7},{"s":"L4","F":1e-11,"N":8.91e7},{"s":"L4","F":3.98e-11,"N":8.91e7},{"s":"L4","F":1.26e-10,"N":7.08e7},{"s":"L4","F":2.51e-10,"N":1.35e7},{"s":"L4","F":2.7e-9,"N":8130},
{"s":"L5","F":2e-12,"N":3.16e7},{"s":"L5","F":1e-11,"N":7.08e7},{"s":"L5","F":3.98e-11,"N":7.94e7},{"s":"L5","F":1.58e-10,"N":5.62e7},{"s":"L5","F":3.16e-10,"N":1.38e7},{"s":"L5","F":2.7e-9,"N":50100},
{"s":"L6","F":2e-12,"N":2.51e7},{"s":"L6","F":1e-11,"N":5.62e7},{"s":"L6","F":3.98e-11,"N":6.31e7},{"s":"L6","F":1.41e-10,"N":4.47e7},{"s":"L6","F":2.82e-10,"N":8.13e6},{"s":"L6","F":2.7e-9,"N":5750},
{"s":"L7","F":2e-12,"N":2.0e7},{"s":"L7","F":1e-11,"N":4.47e7},{"s":"L7","F":3.98e-11,"N":5.01e7},{"s":"L7","F":1.58e-10,"N":3.55e7},{"s":"L7","F":3.16e-10,"N":7.59e6},{"s":"L7","F":2.7e-9,"N":14500},
{"s":"L8","F":2e-12,"N":1.58e7},{"s":"L8","F":1e-11,"N":3.55e7},{"s":"L8","F":3.98e-11,"N":3.98e7},{"s":"L8","F":1.78e-10,"N":2.82e7},{"s":"L8","F":3.55e-10,"N":4.57e6},{"s":"L8","F":2.7e-9,"N":4680},
{"s":"L9","F":2e-12,"N":1.26e7},{"s":"L9","F":1e-11,"N":3.16e7},{"s":"L9","F":3.98e-11,"N":3.55e7},{"s":"L9","F":1.58e-10,"N":2.51e7},{"s":"L9","F":3.16e-10,"N":5.62e6},{"s":"L9","F":2.7e-9,"N":13200},
{"s":"L10","F":2e-12,"N":1e7},{"s":"L10","F":1e-11,"N":2.51e7},{"s":"L10","F":3.98e-11,"N":2.82e7},{"s":"L10","F":1.78e-10,"N":2.0e7},{"s":"L10","F":3.55e-10,"N":2.82e6},{"s":"L10","F":2.7e-9,"N":1580},
{"s":"L11","F":2e-12,"N":7.94e6},{"s":"L11","F":1e-11,"N":2.24e7},{"s":"L11","F":3.98e-11,"N":2.51e7},{"s":"L11","F":1.58e-10,"N":1.78e7},{"s":"L11","F":3.16e-10,"N":3.55e6},{"s":"L11","F":2.7e-9,"N":5620},
{"s":"L12","F":2e-12,"N":6.31e6},{"s":"L12","F":1e-11,"N":1.78e7},{"s":"L12","F":3.98e-11,"N":2.24e7},{"s":"L12","F":1.78e-10,"N":1.58e7},{"s":"L12","F":3.55e-10,"N":2.0e6},{"s":"L12","F":2.7e-9,"N":759},
{"s":"L13","F":2e-12,"N":5.01e6},{"s":"L13","F":1e-11,"N":1.58e7},{"s":"L13","F":3.98e-11,"N":2.0e7},{"s":"L13","F":1.58e-10,"N":1.41e7},{"s":"L13","F":3.16e-10,"N":2.19e6},{"s":"L13","F":2.7e-9,"N":1200},
{"s":"L14","F":2e-12,"N":3.98e6},{"s":"L14","F":1e-11,"N":1.26e7},{"s":"L14","F":3.98e-11,"N":1.78e7},{"s":"L14","F":2.0e-10,"N":1.26e7},{"s":"L14","F":3.98e-10,"N":1.45e6},{"s":"L14","F":2.7e-9,"N":589},
{"s":"L15","F":2e-12,"N":6.31e7},{"s":"L15","F":1e-11,"N":1.12e8},{"s":"L15","F":3.98e-11,"N":1.26e8},{"s":"L15","F":1.26e-10,"N":8.91e7},{"s":"L15","F":2.51e-10,"N":2.57e7},{"s":"L15","F":2.7e-9,"N":100000},
{"s":"L16","F":2e-12,"N":4.47e7},{"s":"L16","F":1e-11,"N":8.91e7},{"s":"L16","F":3.98e-11,"N":8.91e7},{"s":"L16","F":1.58e-10,"N":6.31e7},{"s":"L16","F":3.16e-10,"N":1.1e7},{"s":"L16","F":2.7e-9,"N":9120},
{"s":"L17","F":2e-12,"N":2.24e7},{"s":"L17","F":1e-11,"N":5.01e7},{"s":"L17","F":3.98e-11,"N":5.62e7},{"s":"L17","F":1.26e-10,"N":3.98e7},{"s":"L17","F":2.51e-10,"N":1.26e7},{"s":"L17","F":2.7e-9,"N":77600},
{"s":"L18","F":2e-12,"N":8.91e6},{"s":"L18","F":1e-11,"N":2.24e7},{"s":"L18","F":3.98e-11,"N":2.82e7},{"s":"L18","F":1.41e-10,"N":2.24e7},{"s":"L18","F":2.82e-10,"N":5.5e6},{"s":"L18","F":2.7e-9,"N":14500},
{"s":"L19","F":2e-12,"N":1.78e7},{"s":"L19","F":1e-11,"N":3.98e7},{"s":"L19","F":3.98e-11,"N":5.01e7},{"s":"L19","F":1.78e-10,"N":3.55e7},{"s":"L19","F":3.55e-10,"N":3.63e6},{"s":"L19","F":2.7e-9,"N":631},
{"s":"L20","F":2e-12,"N":1.12e7},{"s":"L20","F":1e-11,"N":2.82e7},{"s":"L20","F":3.98e-11,"N":3.16e7},{"s":"L20","F":1.26e-10,"N":2.24e7},{"s":"L20","F":2.51e-10,"N":7.94e6},{"s":"L20","F":2.7e-9,"N":77600},
{"s":"L21","F":2e-12,"N":2.82e7},{"s":"L21","F":1e-11,"N":6.31e7},{"s":"L21","F":3.98e-11,"N":7.08e7},{"s":"L21","F":1.41e-10,"N":5.01e7},{"s":"L21","F":2.82e-10,"N":1e7},{"s":"L21","F":2.7e-9,"N":2510},
{"s":"L22","F":2e-12,"N":5.62e6},{"s":"L22","F":1e-11,"N":1.41e7},{"s":"L22","F":3.98e-11,"N":1.78e7},{"s":"L22","F":1.58e-10,"N":1.26e7},{"s":"L22","F":3.16e-10,"N":3.16e6},{"s":"L22","F":2.7e-9,"N":20000},
{"s":"L23","F":2e-12,"N":3.55e7},{"s":"L23","F":1e-11,"N":7.94e7},{"s":"L23","F":3.98e-11,"N":1e8},{"s":"L23","F":1.26e-10,"N":7.08e7},{"s":"L23","F":2.51e-10,"N":2.0e7},{"s":"L23","F":2.7e-9,"N":25100},
{"s":"L24","F":2e-12,"N":1.41e7},{"s":"L24","F":1e-11,"N":3.16e7},{"s":"L24","F":3.98e-11,"N":3.98e7},{"s":"L24","F":1.78e-10,"N":2.82e7},{"s":"L24","F":3.55e-10,"N":5.01e6},{"s":"L24","F":2.7e-9,"N":2000}
],
"bandOuter": [
{"F":2e-12,"lo":2.51e8,"hi":9.33e11},{"F":1e-11,"lo":7.94e9,"hi":5.62e11},{"F":2.51e-11,"lo":6.31e10,"hi":3.55e11},{"F":3.55e-11,"lo":1.12e11,"hi":2.82e11},{"F":5.01e-11,"lo":1e11,"hi":2.51e11},{"F":7.94e-11,"lo":2.82e10,"hi":1e11},{"F":1e-10,"lo":1e10,"hi":4.47e10},{"F":1.58e-10,"lo":1.26e9,"hi":5.62e9},{"F":3.16e-10,"lo":6.31e7,"hi":3.98e8},{"F":1e-9,"lo":3.55e5,"hi":3.55e6},{"F":2.7e-9,"lo":3980,"hi":2.0e5}
],
"bandInner": [
{"F":2e-12,"lo":6.31e8,"hi":2.0e11},{"F":1e-11,"lo":1e10,"hi":1.78e11},{"F":2.51e-11,"lo":5.62e10,"hi":1.78e11},{"F":3.98e-11,"lo":1e11,"hi":1.91e11},{"F":6.31e-11,"lo":6.31e10,"hi":1.26e11},{"F":1e-10,"lo":1.12e10,"hi":2.24e10},{"F":3.16e-10,"lo":7.08e7,"hi":1.78e8},{"F":1e-9,"lo":4.47e5,"hi":1.26e6},{"F":2.7e-9,"lo":5620,"hi":25100}
],
"blueR": [
{"F":2e-12,"N":5.01e9},{"F":1e-11,"N":2.82e10},{"F":2.51e-11,"N":7.94e10},{"F":4.27e-11,"N":1.35e11},{"F":5.01e-11,"N":1.26e11},{"F":6.31e-11,"N":7.94e10},{"F":7.94e-11,"N":3.55e10},{"F":1e-10,"N":1.41e10},{"F":1e-9,"N":5.89e5},{"F":2.7e-9,"N":7080}
]
},
"hconcat": [
{
  "width": 371, "height": 370,
  "title": {"text": "Sim Data, No Simulated GCE PS"},
  "layer": [
    {
      "data": {"name": "light"},
      "mark": {"type": "line", "strokeWidth": 1.8, "clip": true},
      "encoding": {
        "x": {"field": "x", "type": "quantitative", "scale": {"domain": [0, 25], "nice": false, "zero": false},
              "axis": {"orient": "bottom", "values": [0, 5, 10, 15, 20, 25], "format": "d", "offset": -10, "tickSize": 10, "labelPadding": 6, "title": "Flux Fraction (%)", "titlePadding": 3}},
        "y": {"field": "y", "type": "quantitative", "scale": {"domain": [0, 0.3], "nice": false},
              "axis": {"orient": "left", "values": [0, 0.05, 0.1, 0.15, 0.2, 0.25, 0.3], "format": ".2f", "offset": -10, "tickSize": 10, "labelPadding": 6, "title": "Posterior Probability", "titlePadding": 6}},
        "color": {"field": "c", "type": "nominal", "scale": {"domain": ["b", "p"], "range": ["#c8c8fa", "#f8c0c0"]}, "legend": null},
        "detail": {"field": "s"}
      }
    },
    {
      "data": {"name": "blue"},
      "mark": {"type": "line", "strokeWidth": 3, "color": "#0000ff", "clip": true},
      "encoding": {
        "x": {"field": "x", "type": "quantitative", "axis": {"orient": "top", "values": [5, 10, 15, 20], "offset": -10, "tickSize": 10, "labels": false, "title": null}},
        "y": {"field": "y", "type": "quantitative", "axis": {"orient": "right", "values": [0.05, 0.1, 0.15, 0.2, 0.25], "offset": -10, "tickSize": 10, "labels": false, "title": null}}
      }
    },
    {
      "data": {"name": "red"},
      "mark": {"type": "line", "strokeWidth": 3, "color": "#ff0000", "clip": true},
      "encoding": {
        "x": {"field": "x", "type": "quantitative", "axis": null},
        "y": {"field": "y", "type": "quantitative", "axis": null}
      }
    }
  ]
},
{
  "width": 363, "height": 368,
  "title": {"text": "Sim Asymmetric Smooth GCE"},
  "layer": [
    {
      "data": {"name": "bandOuter"},
      "mark": {"type": "area", "color": "#ccccff", "interpolate": "monotone", "clip": true},
      "encoding": {
        "x": {"field": "F", "type": "quantitative", "scale": {"type": "log", "domain": [2e-12, 2.7e-9], "nice": false},
              "axis": {"orient": "bottom", "values": [1e-11, 1e-10, 1e-9], "offset": -10, "tickSize": 10, "labelPadding": 6,
                       "labelExpr": "datum.value == 1e-11 ? '10⁻¹¹' : datum.value == 1e-10 ? '10⁻¹⁰' : '10⁻⁹'",
                       "title": "F  [photons cm⁻² s⁻¹]", "titlePadding": 3}},
        "y": {"field": "lo", "type": "quantitative", "scale": {"type": "log", "domain": [1, 1e12], "nice": false},
              "axis": {"orient": "left", "values": [1, 100, 10000, 1000000, 100000000, 10000000000, 1000000000000], "offset": -10, "tickSize": 10, "labelPadding": 9,
                       "labelExpr": "datum.value == 1 ? '10⁰' : datum.value == 100 ? '10²' : datum.value == 10000 ? '10⁴' : datum.value == 1000000 ? '10⁶' : datum.value == 100000000 ? '10⁸' : datum.value == 10000000000 ? '10¹⁰' : '10¹²'",
                       "title": "dN/dF [photons⁻¹ cm² s deg⁻²]", "titlePadding": 6}},
        "y2": {"field": "hi"}
      }
    },
    {
      "data": {"name": "bandInner"},
      "mark": {"type": "area", "color": "#9999ff", "interpolate": "monotone", "clip": true},
      "encoding": {
        "x": {"field": "F", "type": "quantitative",
              "axis": {"orient": "bottom", "values": [3e-12,4e-12,5e-12,6e-12,7e-12,8e-12,9e-12,2e-11,3e-11,4e-11,5e-11,6e-11,7e-11,8e-11,9e-11,2e-10,3e-10,4e-10,5e-10,6e-10,7e-10,8e-10,9e-10,2e-9], "offset": -5, "tickSize": 5, "labels": false, "title": null}},
        "y": {"field": "lo", "type": "quantitative", "axis": null},
        "y2": {"field": "hi"}
      }
    },
    {
      "data": {"name": "green"},
      "mark": {"type": "line", "strokeWidth": 1.8, "color": "#90ee90", "interpolate": "monotone", "clip": true},
      "encoding": {
        "x": {"field": "F", "type": "quantitative",
              "axis": {"orient": "top", "values": [1e-11, 1e-10, 1e-9], "offset": -10, "tickSize": 10, "labels": false, "title": null}},
        "y": {"field": "N", "type": "quantitative",
              "axis": {"orient": "right", "values": [100, 10000, 1000000, 100000000, 10000000000], "offset": -10, "tickSize": 10, "labels": false, "title": null}},
        "detail": {"field": "s"}
      }
    },
    {
      "data": {"name": "blueR"},
      "mark": {"type": "line", "strokeWidth": 2, "color": "#0000ee", "clip": true},
      "encoding": {
        "x": {"field": "F", "type": "quantitative",
              "axis": {"orient": "top", "values": [3e-12,4e-12,5e-12,6e-12,7e-12,8e-12,9e-12,2e-11,3e-11,4e-11,5e-11,6e-11,7e-11,8e-11,9e-11,2e-10,3e-10,4e-10,5e-10,6e-10,7e-10,8e-10,9e-10,2e-9], "offset": -5, "tickSize": 5, "labels": false, "title": null}},
        "y": {"field": "N", "type": "quantitative", "axis": null}
      }
    }
  ]
}
]
}
